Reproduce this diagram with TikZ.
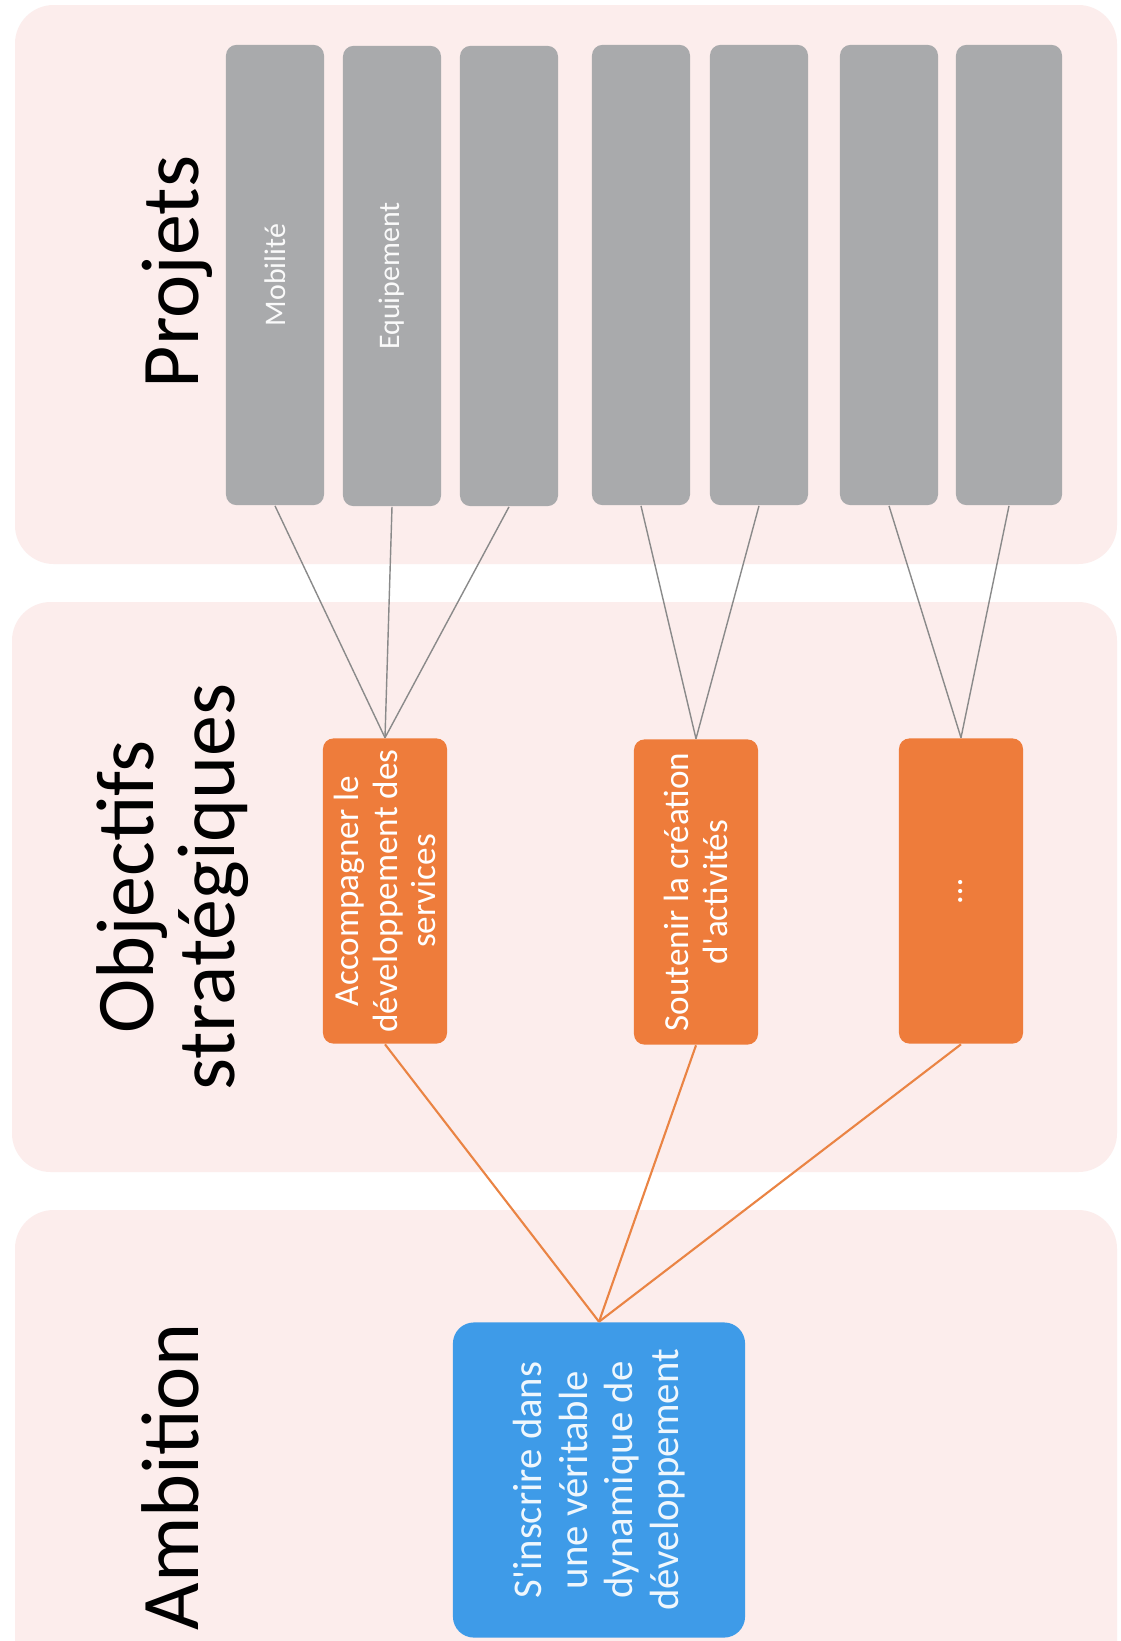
\documentclass[tikz,border=0pt]{standalone}
\usepackage{fontspec}
\setmainfont{Carlito}
\usepackage{xcolor}
\definecolor{fondrose}{HTML}{FCEDEC}
\definecolor{grisprojet}{HTML}{A9AAAC}
\definecolor{orangeobj}{HTML}{EE7C3B}
\definecolor{bleuamb}{HTML}{3E9BE8}
\definecolor{traitgris}{HTML}{8A8A8A}
\definecolor{traitorange}{HTML}{EA8444}
\tikzset{
	titre/.style={rotate=90, anchor=base, font=\fontsize{23.3}{23}\selectfont, align=center},
	projet/.style={rotate=90, fill=grisprojet, rounded corners=3pt, minimum width=4.6cm, minimum height=0.98cm, inner sep=0pt, text=white!94!grisprojet, font=\fontsize{8.5}{10}\selectfont},
	objectif/.style={rotate=90, fill=orangeobj, rounded corners=3pt, minimum width=3.05cm, minimum height=1.24cm, inner sep=1pt, text=white, align=center, font=\fontsize{10}{11}\selectfont},
	ambition/.style={rotate=90, fill=bleuamb, rounded corners=6pt, minimum width=3.15cm, minimum height=2.92cm, inner sep=1pt, text=white!92!bleuamb, align=center, font=\fontsize{11.6}{13}\selectfont},
	lienp/.style={traitgris, line width=0.4pt},
	lieno/.style={traitorange, line width=0.6pt}
}

\begin{document}
\begin{tikzpicture}[x=0.01cm, y=-0.01cm]
	\clip (0,0) rectangle (1120,1641);
	\fill[white] (0,0) rectangle (1120,1641);
	\fill[fondrose, rounded corners=11pt] (15,5) rectangle (1117,564);
	\fill[fondrose, rounded corners=11pt] (12,602) rectangle (1117,1172);
	\fill[fondrose, rounded corners=11pt] (15,1210) rectangle (1117,1720);

	\node[titre] (tprojets) at (198,272) {Projets};
	\node[titre, anchor=center] (tobjectifs) at (173,887) {Objectifs\\strat\'egiques};
	\node[titre] (tambition) at (198,1477) {Ambition};

	\node[projet] (p1) at (275,275) {Mobilit\'e};
	\node[projet] (p2) at (392,276) {Equipement};
	\node[projet] (p3) at (509,276) {};
	\node[projet] (p4) at (641,275) {};
	\node[projet] (p5) at (759,275) {};
	\node[projet] (p6) at (889,275) {};
	\node[projet, minimum height=1.06cm] (p7) at (1009,275) {};

	\node[objectif] (o1) at (385,891) {Accompagner le\\d\'eveloppement des\\services};
	\node[objectif] (o2) at (696,892) {Soutenir la cr\'eation\\d\textquotesingle activit\'es};
	\node[objectif] (o3) at (961,891) {\dots};

	\node[ambition] (amb) at (599,1480) {S\textquotesingle inscrire dans\\une v\'eritable\\dynamique de\\d\'eveloppement};

	\draw[lienp] (p1.west) -- (o1.east);
	\draw[lienp] (p2.west) -- (o1.east);
	\draw[lienp] (p3.west) -- (o1.east);
	\draw[lienp] (p4.west) -- (o2.east);
	\draw[lienp] (p5.west) -- (o2.east);
	\draw[lienp] (p6.west) -- (o3.east);
	\draw[lienp] (p7.west) -- (o3.east);

	\draw[lieno] (o1.west) -- (amb.east);
	\draw[lieno] (o2.west) -- (amb.east);
	\draw[lieno] (o3.west) -- (amb.east);
\end{tikzpicture}
\end{document}
